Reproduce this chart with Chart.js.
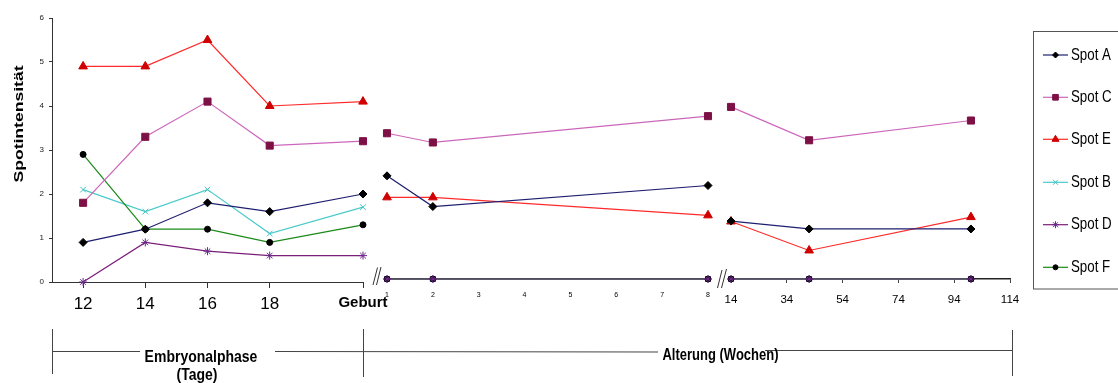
<!DOCTYPE html>
<html><head><meta charset="utf-8">
<script src="https://cdn.jsdelivr.net/npm/chart.js@4/dist/chart.umd.min.js"></script>
<style>
html,body{margin:0;padding:0;background:#fff;}
#wrap{position:relative;width:1118px;height:383px;overflow:hidden;background:#fff;}
#wrap canvas{position:absolute;left:0;top:0;}
</style></head><body>
<div id="wrap">
<canvas id="c1" width="1118" height="383"></canvas>
<canvas id="c2" width="1118" height="383"></canvas>
<canvas id="c3" width="1118" height="383"></canvas>
</div>
<script>
// ---------- categories / x values ----------
const embryoDays = [12, 14, 16, 18, 21];          // 21 = Geburt
const embryoTickLabels = ['12', '14', '16', '18', 'Geburt'];
const weeksEarly = [1, 2, 8];
const weeksLate = [14, 42, 100];
const earlyTickValues = [1, 2, 3, 4, 5, 6, 7, 8];
const lateTickValues = [14, 34, 54, 74, 94, 114];
const yTickValues = [0, 1, 2, 3, 4, 5, 6];
const seriesNames = ['Spot A', 'Spot C', 'Spot E', 'Spot B', 'Spot D', 'Spot F'];

// ---------- values: Embryonalphase (Tage) ----------
const spotA_embryo = [0.9, 1.2, 1.8, 1.6, 2.0];
const spotC_embryo = [1.8, 3.3, 4.1, 3.1, 3.2];
const spotE_embryo = [4.9, 4.9, 5.5, 4.0, 4.1];
const spotB_embryo = [2.1, 1.6, 2.1, 1.1, 1.7];
const spotD_embryo = [0.0, 0.9, 0.7, 0.6, 0.6];
const spotF_embryo = [2.9, 1.2, 1.2, 0.9, 1.3];

// ---------- values: Alterung, Wochen 1-8 ----------
const spotA_early = [2.35, 1.65, 2.13];
const spotC_early = [3.32, 3.11, 3.71];
const spotE_early = [1.86, 1.86, 1.45];
const spotB_early = [0, 0, 0];
const spotD_early = [0, 0, 0];
const spotF_early = [0, 0, 0];

// ---------- values: Alterung, Wochen 14-114 ----------
const spotA_late = [1.32, 1.14, 1.14];
const spotC_late = [3.92, 3.16, 3.61];
const spotE_late = [1.31, 0.65, 1.41];
const spotB_late = [0, 0, 0];
const spotD_late = [0, 0, 0];
const spotF_late = [0, 0, 0];

// ---------- styles ----------
const seriesStyle = {
  'Spot A': {line: '#1e1e70', mark: '#000000', ps: 'rectRot', r: 4, lr: 3, order: 1},
  'Spot C': {line: '#cc66bb', mark: '#7d1045', ps: 'rect', r: 5, lr: 4, order: 2},
  'Spot E': {line: '#ff2a2a', mark: '#d00000', ps: 'triangle', r: 5, lr: 4, order: 3},
  'Spot B': {line: '#4ccaca', mark: '#3fbfbf', ps: 'crossRot', r: 4, lr: 3.5, order: 6},
  'Spot D': {line: '#7a1e7a', mark: '#6a2a8a', ps: 'star', r: 4, lr: 3.5, order: 4},
  'Spot F': {line: '#1a8a1a', mark: '#000000', ps: 'circle', r: 3, lr: 2.5, order: 5}
};
const FONT = "'Liberation Sans', Arial, sans-serif";
Chart.defaults.font.family = FONT;

function makeSets(xs, arrays) {
  return seriesNames.map((name, i) => {
    const st = seriesStyle[name];
    return {
      label: name,
      order: st.order,
      data: xs.map((x, j) => ({x: x, y: arrays[i][j]})),
      borderColor: st.line,
      backgroundColor: st.mark,
      pointBackgroundColor: st.mark,
      pointBorderColor: st.mark,
      pointBorderWidth: 1,
      pointStyle: st.ps,
      pointRadius: st.r,
      borderWidth: 1.2,
      tension: 0,
      clip: false
    };
  });
}

const W = 1118, H = 383;

// annotations drawn on panel 1 canvas
const annotPlugin = {
  id: 'annot',
  afterDraw(chart) {
    const ctx = chart.ctx;
    ctx.save();
    // y title
    ctx.save();
    ctx.translate(23, 124);
    ctx.rotate(-Math.PI / 2);
    ctx.scale(1.3, 1);
    ctx.font = "bold 13.5px " + FONT;
    ctx.fillStyle = '#000';
    ctx.textAlign = 'center';
    ctx.textBaseline = 'alphabetic';
    ctx.fillText('Spotintensität', 0, 0);
    ctx.restore();

    // axis break marks
    ctx.strokeStyle = '#333';
    ctx.lineWidth = 1;
    const seg = (a, b, c, d) => { ctx.beginPath(); ctx.moveTo(a, b); ctx.lineTo(c, d); ctx.stroke(); };
    seg(373, 285, 377.5, 267.5);
    seg(376.5, 285, 381, 267);
    seg(717.5, 288, 722, 270);
    seg(721.5, 288, 726.5, 269);

    // bottom bracket
    ctx.strokeStyle = '#444';
    seg(52.5, 329, 52.5, 374);
    seg(363.5, 329, 363.5, 377);
    seg(1012.5, 330, 1012.5, 376);
    seg(52.5, 351.5, 140, 351.5);
    seg(275, 351.5, 658, 352);
    seg(765, 350.5, 1012.5, 350.5);

    ctx.fillStyle = '#000';
    ctx.textAlign = 'center';
    ctx.textBaseline = 'alphabetic';
    const txt = (s, x, y, size) => {
      ctx.save();
      ctx.translate(x, y);
      ctx.scale(1, 1.22);
      ctx.font = "bold " + size + "px " + FONT;
      ctx.fillText(s, 0, 0);
      ctx.restore();
    };
    txt('Embryonalphase', 201, 361.5, 14);
    txt('(Tage)', 197, 380, 14);
    txt('Alterung (Wochen)', 720.5, 360, 13);
    ctx.restore();
  }
};

// legend drawn on panel 3 canvas
const legendPlugin = {
  id: 'customLegend',
  afterDraw(chart) {
    const ctx = chart.ctx;
    ctx.save();
    ctx.strokeStyle = '#555';
    ctx.lineWidth = 1;
    ctx.strokeRect(1033.5, 31.5, 120, 257.5);
    const ys = [55, 97.3, 139.3, 182.3, 224.7, 267.3];
    seriesNames.forEach((name, i) => {
      const st = seriesStyle[name];
      const y = ys[i];
      ctx.strokeStyle = st.line;
      ctx.lineWidth = 1.2;
      ctx.beginPath(); ctx.moveTo(1043, y); ctx.lineTo(1068, y); ctx.stroke();
      ctx.fillStyle = st.mark;
      ctx.strokeStyle = st.mark;
      ctx.lineWidth = 1;
      Chart.helpers.drawPoint(ctx, {pointStyle: st.ps, radius: st.lr, rotation: 0, borderWidth: 1}, 1055.5, y);
      ctx.save();
      ctx.translate(1071, y + 4.5);
      ctx.scale(0.95, 1.2);
      ctx.fillStyle = '#000';
      ctx.font = "14px " + FONT;
      ctx.textAlign = 'left';
      ctx.textBaseline = 'alphabetic';
      ctx.fillText(name, 0, 0);
      ctx.restore();
    });
    ctx.restore();
  }
};

const baseOpts = {
  animation: false,
  responsive: false,
  events: [],
  plugins: {legend: {display: false}, tooltip: {enabled: false}}
};

// ---------- Panel 1: Embryonalphase ----------
new Chart(document.getElementById('c1'), {
  type: 'line',
  data: {datasets: makeSets(embryoDays, [spotA_embryo, spotC_embryo, spotE_embryo, spotB_embryo, spotD_embryo, spotF_embryo])},
  options: Object.assign({}, baseOpts, {
    layout: {padding: {left: 0, top: 18, right: W - 363, bottom: 0}},
    scales: {
      x: {
        type: 'linear', min: 11, max: 21,
        afterBuildTicks: s => { s.ticks = embryoDays.map(v => ({value: v})); },
        afterFit: s => { s.height = H - 282; },
        ticks: {
          callback: v => { const k = embryoDays.indexOf(v); return k >= 0 ? embryoTickLabels[k] : ''; },
          font: c => (c.tick && c.tick.value === 21) ? {size: 15, weight: 'bold'} : {size: 17},
          color: '#000', padding: 6, maxRotation: 0, autoSkip: false
        },
        grid: {drawOnChartArea: false, drawTicks: true, tickLength: 6, color: '#333'},
        border: {color: '#333', width: 1}
      },
      y: {
        min: 0, max: 6,
        afterBuildTicks: s => { s.ticks = yTickValues.map(v => ({value: v})); },
        afterFit: s => { s.width = 52; },
        ticks: {font: {size: 8}, color: '#222', padding: 5},
        grid: {drawOnChartArea: false, drawTicks: true, tickLength: 3, color: '#333'},
        border: {color: '#333', width: 1}
      }
    }
  }),
  plugins: [annotPlugin]
});

// ---------- Panel 2: Wochen 1-8 ----------
new Chart(document.getElementById('c2'), {
  type: 'line',
  data: {datasets: makeSets(weeksEarly, [spotA_early, spotC_early, spotE_early, spotB_early, spotD_early, spotF_early])},
  options: Object.assign({}, baseOpts, {
    layout: {padding: {left: 387, top: 279 - 263.4, right: W - 708, bottom: 0}},
    scales: {
      x: {
        type: 'linear', min: 1, max: 8,
        afterBuildTicks: s => { s.ticks = earlyTickValues.map(v => ({value: v})); },
        afterFit: s => { s.height = H - 279; },
        ticks: {font: {size: 7}, color: '#000', padding: 12, maxRotation: 0, autoSkip: false},
        grid: {display: false, drawTicks: false},
        border: {color: '#111', width: 1.5}
      },
      y: {display: false, min: 0, max: 6}
    }
  })
});

// ---------- Panel 3: Wochen 14-114 ----------
new Chart(document.getElementById('c3'), {
  type: 'line',
  data: {datasets: makeSets(weeksLate, [spotA_late, spotC_late, spotE_late, spotB_late, spotD_late, spotF_late])},
  options: Object.assign({}, baseOpts, {
    layout: {padding: {left: 731, top: 279 - 263.4, right: W - 1010, bottom: 0}},
    scales: {
      x: {
        type: 'linear', min: 14, max: 114,
        afterBuildTicks: s => { s.ticks = lateTickValues.map(v => ({value: v})); },
        afterFit: s => { s.height = H - 279; },
        ticks: {font: {size: 11.5}, color: '#000', padding: 10, maxRotation: 0, autoSkip: false},
        grid: {drawOnChartArea: false, drawTicks: true, tickLength: 4, color: '#444'},
        border: {color: '#222', width: 1.5}
      },
      y: {display: false, min: 0, max: 6}
    }
  }),
  plugins: [legendPlugin]
});
</script>
</body></html>
